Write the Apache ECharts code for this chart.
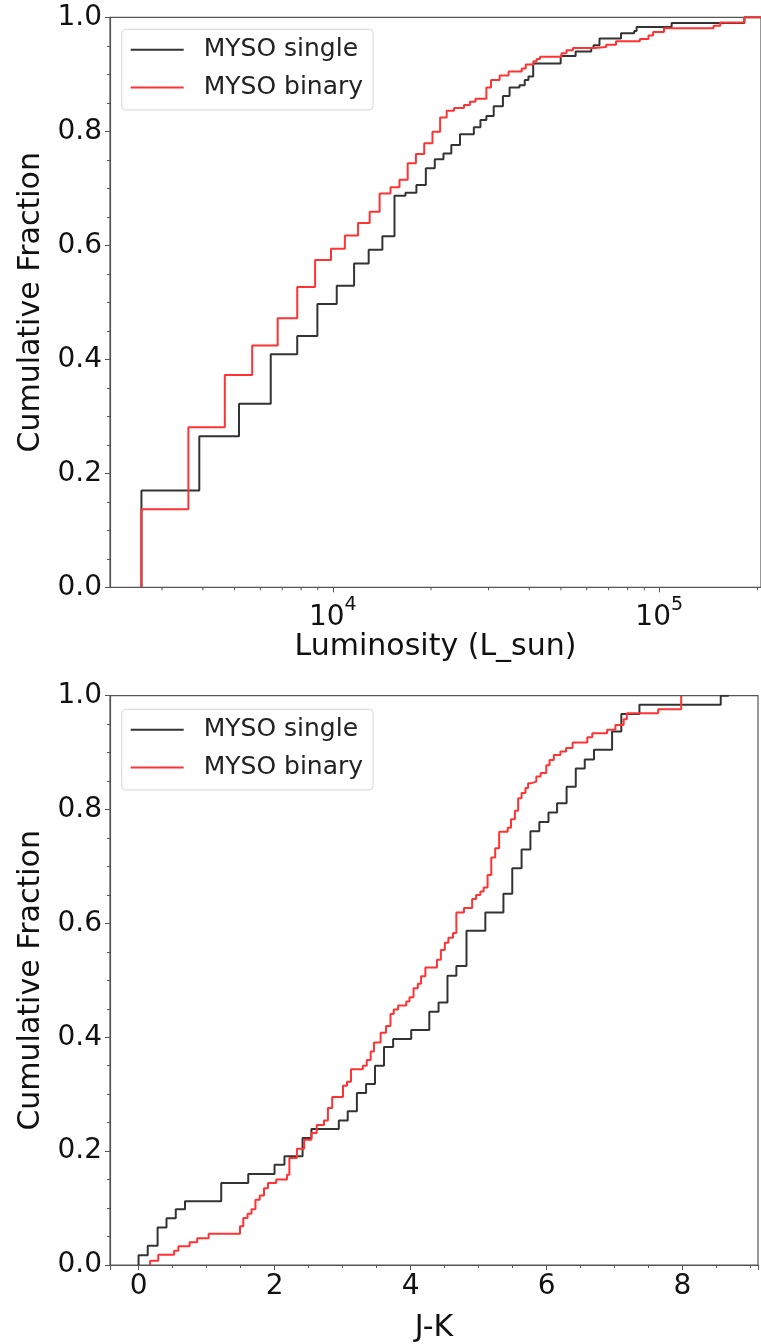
<!DOCTYPE html>
<html>
<head>
<meta charset="utf-8">
<script src="https://cdn.jsdelivr.net/npm/echarts@6/dist/echarts.min.js"></script>
<style>
html,body{margin:0;padding:0;background:#fff;}
#chart{width:761px;height:1344px;}
</style>
</head>
<body>
<div id="chart"></div>
<script>
// ---------- Data ----------
const seriesNames = ['MYSO single', 'MYSO binary'];

// Top panel: cumulative fraction vs luminosity (L_sun)
const lumSingleX = [2594, 2594, 3901, 5162, 6457, 7783, 8972, 10284, 11623, 12883, 14190, 15455, 16703, 18040, 19280, 20535, 21830, 23075, 24530, 27050, 28336, 29550, 31117, 33207, 34800, 37325, 38730, 39755, 41110, 49910, 55460, 61915, 62920, 65615, 76380, 83820, 85240, 109130, 182300, 205000];
const lumSingleY = [0, 0.170, 0.265, 0.322, 0.409, 0.441, 0.497, 0.529, 0.568, 0.592, 0.616, 0.687, 0.692, 0.706, 0.735, 0.751, 0.761, 0.776, 0.795, 0.807, 0.820, 0.827, 0.844, 0.862, 0.877, 0.881, 0.890, 0.896, 0.919, 0.932, 0.940, 0.946, 0.951, 0.963, 0.972, 0.976, 0.983, 0.990, 1.0, 1.0];

const lumBinaryX = [2594, 2594, 3612, 4670, 5665, 6781, 7783, 8829, 9875, 10891, 11953, 12975, 13917, 15030, 16007, 16963, 17977, 19063, 20205, 21325, 22335, 23520, 25230, 26303, 27360, 29550, 30535, 32445, 34560, 37930, 39010, 41170, 42130, 43130, 50190, 51980, 54410, 63370, 68770, 73740, 87240, 92720, 95760, 103420, 146760, 153800, 182300, 205000];
const lumBinaryY = [0, 0.137, 0.281, 0.3725, 0.424, 0.472, 0.527, 0.574, 0.594, 0.617, 0.639, 0.659, 0.691, 0.702, 0.715, 0.744, 0.760, 0.779, 0.799, 0.824, 0.836, 0.841, 0.846, 0.852, 0.857, 0.877, 0.890, 0.898, 0.905, 0.910, 0.917, 0.923, 0.927, 0.931, 0.937, 0.942, 0.946, 0.948, 0.952, 0.958, 0.962, 0.968, 0.974, 0.981, 0.985, 0.991, 1.0, 1.0];

// Bottom panel: cumulative fraction vs J-K colour
const jkSingleX = [0, 0, 0.135, 0.28, 0.411, 0.547, 0.683, 1.216, 1.613, 2.0, 2.146, 2.412, 2.542, 2.945, 3.076, 3.211, 3.346, 3.477, 3.61, 3.744, 4.01, 4.276, 4.412, 4.543, 4.674, 4.823, 5.1, 5.366, 5.496, 5.633, 5.763, 5.894, 6.029, 6.155, 6.295, 6.43, 6.562, 6.698, 6.964, 7.1, 7.366, 8.562, 8.68];
const jkSingleY = [0, 0.017, 0.034, 0.066, 0.082, 0.098, 0.112, 0.144, 0.160, 0.176, 0.191, 0.223, 0.239, 0.254, 0.270, 0.302, 0.318, 0.350, 0.383, 0.397, 0.413, 0.445, 0.461, 0.508, 0.525, 0.587, 0.619, 0.652, 0.697, 0.730, 0.762, 0.778, 0.795, 0.811, 0.840, 0.872, 0.888, 0.905, 0.937, 0.968, 0.984, 1.0, 1.0];

const jkBinaryX = [0.17, 0.17, 0.29, 0.523, 0.586, 0.751, 0.862, 1.031, 1.492, 1.54, 1.603, 1.661, 1.719, 1.782, 1.845, 1.903, 2.024, 2.184, 2.218, 2.329, 2.436, 2.542, 2.62, 2.727, 2.785, 2.848, 3.007, 3.066, 3.124, 3.298, 3.356, 3.414, 3.462, 3.56, 3.64, 3.705, 3.753, 3.817, 3.937, 3.985, 4.044, 4.107, 4.155, 4.218, 4.388, 4.446, 4.504, 4.557, 4.625, 4.674, 4.785, 4.906, 4.964, 5.027, 5.075, 5.133, 5.187, 5.245, 5.303, 5.429, 5.477, 5.535, 5.583, 5.633, 5.69, 5.729, 5.768, 5.85, 5.913, 5.996, 6.044, 6.107, 6.204, 6.287, 6.383, 6.6, 6.673, 6.891, 7.013, 7.134, 7.181, 7.642, 7.98];
const jkBinaryY = [0, 0.0075, 0.018, 0.025, 0.033, 0.040, 0.047, 0.055, 0.068, 0.0825, 0.090, 0.098, 0.1146, 0.122, 0.135, 0.144, 0.150, 0.1585, 0.188, 0.204, 0.220, 0.232, 0.246, 0.254, 0.2756, 0.295, 0.315, 0.322, 0.344, 0.350, 0.360, 0.375, 0.391, 0.408, 0.420, 0.441, 0.449, 0.456, 0.463, 0.4705, 0.486, 0.494, 0.507, 0.5225, 0.536, 0.5535, 0.566, 0.575, 0.583, 0.619, 0.627, 0.643, 0.650, 0.656, 0.663, 0.685, 0.7156, 0.732, 0.761, 0.768, 0.783, 0.798, 0.820, 0.829, 0.838, 0.846, 0.849, 0.858, 0.864, 0.878, 0.887, 0.896, 0.902, 0.908, 0.918, 0.927, 0.934, 0.940, 0.9486, 0.9585, 0.969, 0.976, 1.0];

// Axis ranges and tick values
const lumRange = [2078, 205000];
const jkRange = [-0.42, 9.11];
const lumMinorTicks = [3000, 4000, 5000, 6000, 7000, 8000, 9000, 20000, 30000, 40000, 50000, 60000, 70000, 80000, 90000, 200000];

// ---------- Styling ----------
const FONT = 'DejaVu Sans';
const SPINE = '#555555';
const BLACK = '#333333';
const RED = '#ff3333';

const pairs = (xs, ys) => xs.map((x, i) => [x, ys[i]]);

const yAxisCommon = (gridIndex) => ({
  type: 'value', gridIndex, min: 0, max: 1, interval: 0.2,
  name: 'Cumulative Fraction', nameLocation: 'middle', nameGap: 64, nameRotate: 90,
  nameTextStyle: { fontFamily: FONT, fontSize: 30, color: '#111' },
  axisLine: { show: true, onZero: false, lineStyle: { color: SPINE, width: 1.2 } },
  axisTick: { show: true, length: 5, lineStyle: { color: SPINE, width: 1 } },
  minorTick: { show: true, splitNumber: 4, length: 3, lineStyle: { color: SPINE, width: 1 } },
  splitLine: { show: false }, minorSplitLine: { show: false },
  axisLabel: { fontFamily: FONT, fontSize: 28, color: '#111', margin: 8, formatter: v => v.toFixed(1) }
});

const legendCommon = (top) => ({
  data: seriesNames, orient: 'vertical', left: 121.7, top: top,
  padding: [8, 10, 10, 9], itemWidth: 53, itemHeight: 2, itemGap: 12.7, icon: 'rect',
  borderColor: '#d6d6d6', borderWidth: 1, borderRadius: 4, backgroundColor: 'rgba(255,255,255,0.8)',
  textStyle: { fontFamily: FONT, fontSize: 25, color: '#222', padding: [0, 0, 0, 15] },
  selectedMode: false
});

const chart = echarts.init(document.getElementById('chart'), null, { renderer: 'canvas' });
chart.setOption({
  animation: false,
  backgroundColor: '#ffffff',
  grid: [
    { left: 110, top: 17.3, width: 656, height: 570, show: true, borderColor: SPINE, borderWidth: 1.2, backgroundColor: 'transparent' },
    { left: 110, top: 695.7, width: 656, height: 569.6, show: true, borderColor: SPINE, borderWidth: 1.2, backgroundColor: 'transparent' }
  ],
  legend: [legendCommon(29.3), legendCommon(709.3)],
  xAxis: [
    {
      type: 'log', logBase: 10, gridIndex: 0, min: lumRange[0], max: lumRange[1],
      name: 'Luminosity (L_sun)', nameLocation: 'middle', nameGap: 44,
      nameTextStyle: { fontFamily: FONT, fontSize: 30, color: '#111' },
      axisLine: { show: true, onZero: false, lineStyle: { color: SPINE, width: 1.2 } },
      axisTick: { show: true, length: 5, lineStyle: { color: SPINE, width: 1 } },
      splitLine: { show: false },
      axisLabel: {
        margin: 8, showMinLabel: false, showMaxLabel: false,
        formatter: v => {
          const e = Math.log10(v); const r = Math.round(e);
          if (Math.abs(e - r) > 1e-6) return '';
          return '{b|10}{s|' + r + '}';
        },
        rich: {
          b: { fontFamily: FONT, fontSize: 28, color: '#111', lineHeight: 36, verticalAlign: 'bottom' },
          s: { fontFamily: FONT, fontSize: 19, color: '#111', lineHeight: 20, verticalAlign: 'top' }
        }
      }
    },
    {
      type: 'value', gridIndex: 1, min: jkRange[0], max: jkRange[1],
      name: 'J-K', nameLocation: 'middle', nameGap: 48,
      nameTextStyle: { fontFamily: FONT, fontSize: 30, color: '#111' },
      axisLine: { show: true, onZero: false, lineStyle: { color: SPINE, width: 1.2 } },
      axisTick: { show: true, length: 5, lineStyle: { color: SPINE, width: 1 } },
      minorTick: { show: true, splitNumber: 4, length: 3, lineStyle: { color: SPINE, width: 1 } },
      splitLine: { show: false }, minorSplitLine: { show: false },
      axisLabel: {
        fontFamily: FONT, fontSize: 28, color: '#111', margin: 8,
        formatter: v => (Math.abs(v - Math.round(v)) > 1e-9 ? '' : String(Math.round(v)))
      }
    }
  ],
  yAxis: [yAxisCommon(0), yAxisCommon(1)],
  series: [
    {
      name: seriesNames[0], type: 'line', xAxisIndex: 0, yAxisIndex: 0, step: 'end', showSymbol: false,
      data: pairs(lumSingleX, lumSingleY), color: BLACK, lineStyle: { color: BLACK, width: 2 }, clip: true
    },
    {
      name: seriesNames[1], type: 'line', xAxisIndex: 0, yAxisIndex: 0, step: 'end', showSymbol: false,
      data: pairs(lumBinaryX, lumBinaryY), color: RED, lineStyle: { color: RED, width: 2 }, clip: true
    },
    {
      name: seriesNames[0], type: 'line', xAxisIndex: 1, yAxisIndex: 1, step: 'end', showSymbol: false,
      data: pairs(jkSingleX, jkSingleY), color: BLACK, lineStyle: { color: BLACK, width: 2 }, clip: true
    },
    {
      name: seriesNames[1], type: 'line', xAxisIndex: 1, yAxisIndex: 1, step: 'end', showSymbol: false,
      data: pairs(jkBinaryX, jkBinaryY), color: RED, lineStyle: { color: RED, width: 2 }, clip: true
    },
    {
      // minor ticks of the logarithmic luminosity axis, placed through the axis scale
      name: 'minor ticks', type: 'custom', xAxisIndex: 0, yAxisIndex: 0, clip: false, silent: true,
      data: lumMinorTicks.map(v => [v, 0]),
      renderItem: (params, api) => {
        const p = api.coord([api.value(0), 0]);
        return { type: 'line', shape: { x1: p[0], y1: p[1], x2: p[0], y2: p[1] + 3 }, style: { stroke: SPINE, lineWidth: 1 } };
      }
    }
  ]
});
</script>
</body>
</html>
